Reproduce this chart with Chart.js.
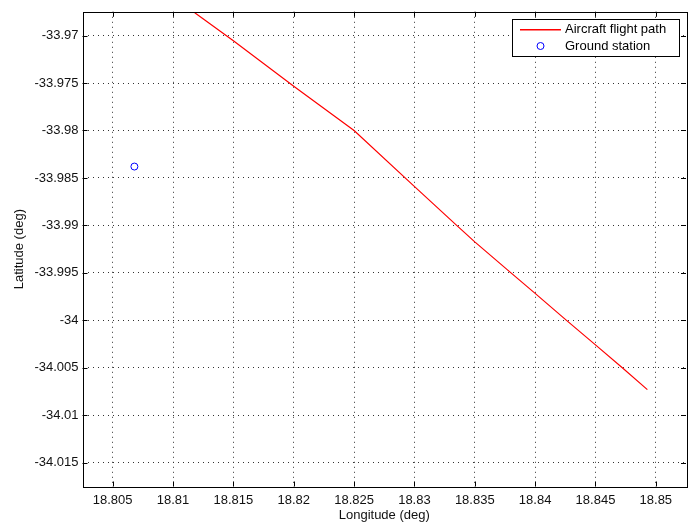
<!DOCTYPE html>
<html>
<head>
<meta charset="utf-8">
<script src="https://cdn.jsdelivr.net/npm/chart.js@4.4.0/dist/chart.umd.min.js"></script>
<style>
html, body { margin: 0; padding: 0; background: #fff; }
#wrap { width: 694px; height: 523px; position: relative; }
</style>
</head>
<body>
<div id="wrap"><canvas id="myChart" width="694" height="523"></canvas></div>
<script>
// flight path (longitude, latitude)
const pathLon = [18.8118, 18.815, 18.82, 18.825, 18.8299, 18.8335, 18.835, 18.838, 18.84, 18.8426, 18.845, 18.8472, 18.8493];
const pathLat = [-33.9676, -33.97055, -33.97535, -33.98, -33.98578, -33.99, -33.99173, -33.995, -33.99716, -34.0, -34.00258, -34.00497, -34.0073];
const stationLon = [18.8068];
const stationLat = [-33.9838];
const xTicks = [18.805, 18.81, 18.815, 18.82, 18.825, 18.83, 18.835, 18.84, 18.845, 18.85];
const yTicks = [-33.97, -33.975, -33.98, -33.985, -33.99, -33.995, -34, -34.005, -34.01, -34.015];

const pathColor = "#ff0000";
const stationColor = "#0000ff";
const font = "'Liberation Sans', Arial, Helvetica, sans-serif";

function fmt(v) {
	return String(Number(v.toFixed(4)));
}

const boxPlugin = {
	id: "box",
	afterDraw(chart) {
		const ctx = chart.ctx;
		const a = chart.chartArea;
		const xs = chart.scales.x, ys = chart.scales.y;
		ctx.save();
		ctx.setLineDash([]);
		ctx.strokeStyle = "#000";
		ctx.lineWidth = 1;
		ctx.beginPath();
		const tl = 5;
		xTicks.forEach(v => {
			const px = Math.round(xs.getPixelForValue(v)) + 0.5;
			ctx.moveTo(px, a.bottom); ctx.lineTo(px, a.bottom - tl);
			ctx.moveTo(px, a.top); ctx.lineTo(px, a.top + tl);
		});
		yTicks.forEach(v => {
			const py = Math.round(ys.getPixelForValue(v)) + 0.5;
			ctx.moveTo(a.left, py); ctx.lineTo(a.left + tl, py);
			ctx.moveTo(a.right, py); ctx.lineTo(a.right - tl, py);
		});
		ctx.stroke();
		ctx.strokeRect(Math.round(a.left) + 0.5, Math.round(a.top) + 0.5, Math.round(a.right - a.left), Math.round(a.bottom - a.top));

		// legend
		const lx = 512.5, ly = 19.5, lw = 167, lh = 37;
		ctx.fillStyle = "#fff";
		ctx.fillRect(lx, ly, lw, lh);
		ctx.strokeRect(lx, ly, lw, lh);
		const ds = chart.data.datasets;
		ctx.font = "13px " + font;
		ctx.textBaseline = "middle";
		ctx.fillStyle = "#000";
		ctx.fillText(ds[0].label, 565, 29.5);
		ctx.fillText(ds[1].label, 565, 46);
		ctx.fillStyle = pathColor;
		ctx.fillRect(520, 29, 41, 1.5);
		ctx.strokeStyle = stationColor;
		ctx.lineWidth = 1;
		ctx.beginPath();
		ctx.arc(540.5, 46, 3.5, 0, Math.PI * 2);
		ctx.stroke();
		ctx.restore();
	}
};

const ctx = document.getElementById("myChart");
new Chart(ctx, {
	type: "scatter",
	data: {
		datasets: [
			{
				label: "Aircraft flight path",
				data: pathLon.map((x, i) => ({ x: x, y: pathLat[i] })),
				showLine: true,
				borderColor: pathColor,
				borderWidth: 1.2,
				pointRadius: 0,
				tension: 0,
			},
			{
				label: "Ground station",
				data: stationLon.map((x, i) => ({ x: x, y: stationLat[i] })),
				showLine: false,
				borderColor: stationColor,
				backgroundColor: "rgba(0,0,0,0)",
				borderWidth: 1,
				pointRadius: 3.5,
			},
		],
	},
	options: {
		responsive: false,
		animation: false,
		layout: { padding: { top: 9, right: 8, left: 0, bottom: 0 } },
		plugins: {
			legend: { display: false },
			tooltip: { enabled: false },
		},
		scales: {
			x: {
				type: "linear",
				min: 18.8025,
				max: 18.8525,
				afterBuildTicks: s => { s.ticks = xTicks.map(v => ({ value: v })); },
				afterFit: s => { s.height = 36.5; },
				border: { display: false, dash: [1, 4] },
				grid: { color: "#333", drawTicks: false, lineWidth: 1 },
				ticks: { callback: fmt, color: "#111", padding: 6, maxRotation: 0, autoSkip: false, font: { family: font, size: 13 } },
				title: { display: true, text: "Longitude (deg)", color: "#111", padding: { top: 0, bottom: 0 }, font: { family: font, size: 13 } },
			},
			y: {
				type: "linear",
				min: -34.0175,
				max: -33.9675,
				afterBuildTicks: s => { s.ticks = yTicks.map(v => ({ value: v })); },
				afterFit: s => { s.width = 82.5; },
				border: { display: false, dash: [1, 4] },
				grid: { color: "#333", drawTicks: false, lineWidth: 1 },
				ticks: { callback: fmt, color: "#111", padding: 4, autoSkip: false, font: { family: font, size: 13 } },
				title: { display: true, text: "Latitude (deg)", color: "#111", padding: { top: 12, bottom: 0 }, font: { family: font, size: 13 } },
			},
		},
	},
	plugins: [boxPlugin],
});
</script>
</body>
</html>
